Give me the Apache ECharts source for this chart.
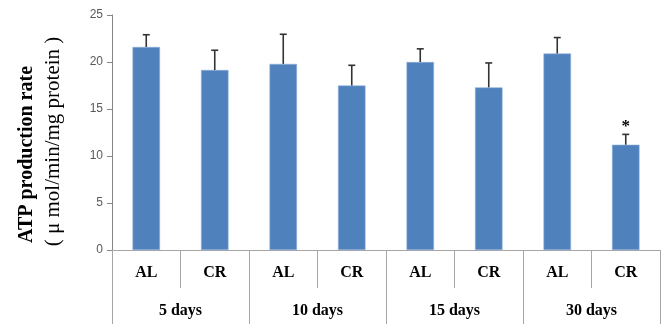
<!DOCTYPE html>
<html>
<head>
<meta charset="utf-8">
<script src="https://cdn.jsdelivr.net/npm/echarts@6/dist/echarts.min.js"></script>
<style>
  html, body { margin: 0; padding: 0; background: #fff; }
  #chart { width: 666px; height: 324px; }
</style>
</head>
<body>
<div id="chart"></div>
<script>
// Diet groups within each time point
const categories = ['AL', 'CR', 'AL', 'CR', 'AL', 'CR', 'AL', 'CR'];
// Time points, each spanning two diet groups
const periods = ['5 days', '10 days', '15 days', '30 days'];
// ATP production rate (µmol/min/mg protein): mean and SD
const atpMean = [21.6, 19.15, 19.8, 17.5, 20.0, 17.3, 20.9, 11.2];
const atpSD = [1.3, 2.1, 3.15, 2.15, 1.4, 2.6, 1.7, 1.1];
// Significance markers
const significance = ['', '', '', '', '', '', '', '*'];
// Value axis range
const yMin = 0, yMax = 25, yStep = 5;

const tableLine = { color: '#a6a6a6', width: 1 };
const serif = '"Liberation Serif", "Times New Roman", serif';

const chart = echarts.init(document.getElementById('chart'), null, { renderer: 'canvas' });

const errData = atpMean.map((m, i) => [i, m, atpSD[i]]);

chart.setOption({
  animation: false,
  backgroundColor: '#fff',
  grid: { left: 112, right: 6, top: 15, bottom: 74, containLabel: false },
  xAxis: [
    {
      type: 'category',
      data: categories,
      position: 'bottom',
      axisLine: { show: true, lineStyle: tableLine },
      axisTick: { show: true, interval: 0, length: 38, lineStyle: tableLine },
      axisLabel: { interval: 0, margin: 15, color: '#000', fontFamily: serif, fontWeight: 'bold', fontSize: 16 }
    },
    {
      type: 'category',
      data: periods,
      position: 'bottom',
      offset: 0,
      axisLine: { show: true, lineStyle: tableLine },
      axisTick: { show: true, interval: 0, length: 74, lineStyle: tableLine },
      axisLabel: { interval: 0, margin: 53, color: '#000', fontFamily: serif, fontWeight: 'bold', fontSize: 16 }
    }
  ],
  yAxis: {
    type: 'value',
    min: yMin,
    max: yMax,
    interval: yStep,
    axisLine: { show: true, lineStyle: { color: '#868686', width: 1 } },
    axisTick: { show: true, length: 5, lineStyle: { color: '#868686' } },
    splitLine: { show: false },
    axisLabel: { margin: 9, color: '#595959', fontSize: 12, fontFamily: '"Liberation Sans", Arial, sans-serif' }
  },
  graphic: [
    {
      type: 'text',
      x: 27, y: 154.5,
      rotation: Math.PI / 2,
      style: {
        text: 'ATP production rate',
        fill: '#000',
        font: 'bold 20px ' + serif,
        textAlign: 'center',
        textVerticalAlign: 'middle'
      }
    },
    {
      type: 'text',
      x: 53, y: 141.5,
      rotation: Math.PI / 2,
      style: {
        text: '( \u03bc mol/min/mg protein )',
        fill: '#000',
        font: '21px ' + serif,
        textAlign: 'center',
        textVerticalAlign: 'middle'
      }
    }
  ],
  series: [
    {
      type: 'bar',
      xAxisIndex: 0,
      data: atpMean,
      barWidth: 27.5,
      itemStyle: { color: '#4f81bd', borderColor: '#8eaedb', borderWidth: 0.6 },
      z: 2
    },
    {
      type: 'custom',
      xAxisIndex: 0,
      data: errData,
      z: 3,
      renderItem: function (params, api) {
        const idx = api.value(0);
        const mean = api.value(1);
        const sd = api.value(2);
        const mark = significance[idx];
        const base = api.coord([idx, mean]);
        const top = api.coord([idx, mean + sd]);
        const cap = 3.5;
        const style = { stroke: '#333', lineWidth: 1.6 };
        const children = [
          { type: 'line', shape: { x1: base[0], y1: base[1], x2: top[0], y2: top[1] }, style: style },
          { type: 'line', shape: { x1: top[0] - cap, y1: top[1], x2: top[0] + cap, y2: top[1] }, style: style }
        ];
        if (mark) {
          children.push({
            type: 'text',
            x: top[0], y: top[1] + 1,
            style: {
              text: mark,
              fill: '#000',
              font: 'bold 17px ' + serif,
              textAlign: 'center',
              textVerticalAlign: 'bottom'
            }
          });
        }
        return { type: 'group', children: children };
      }
    }
  ]
});
</script>
</body>
</html>
